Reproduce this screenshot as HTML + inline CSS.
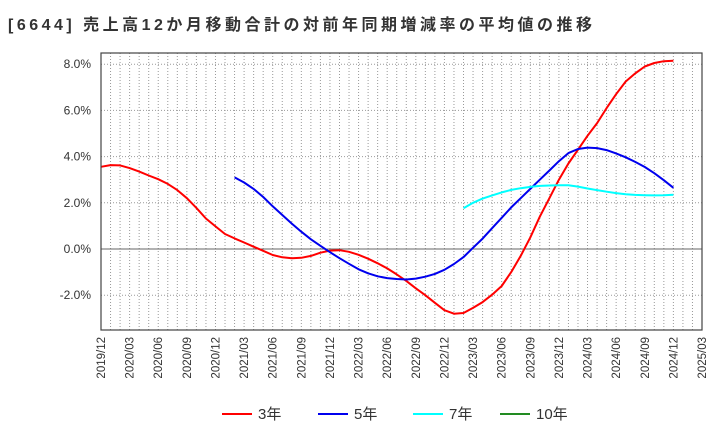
<!DOCTYPE html>
<html><head><meta charset="utf-8"><style>
body{margin:0;background:#fff;font-family:"Liberation Sans","Noto Sans CJK JP",sans-serif;}
svg text{font-family:"Liberation Sans","Noto Sans CJK JP",sans-serif;}
</style></head><body>
<svg id="c" width="720" height="440" xmlns="http://www.w3.org/2000/svg">
<text x="8" y="30" font-size="16" font-weight="bold" fill="#333" textLength="584" lengthAdjust="spacing">[6644]  売上高12か月移動合計の対前年同期増減率の平均値の推移</text>
<g id="grid"></g><g id="series"></g><g id="axes"></g><g id="legend"></g>
</svg>
<script>
const xLabels=["2019/12","2020/03","2020/06","2020/09","2020/12","2021/03","2021/06","2021/09","2021/12","2022/03","2022/06","2022/09","2022/12","2023/03","2023/06","2023/09","2023/12","2024/03","2024/06","2024/09","2024/12","2025/03"];
const yTicks=[-2,0,2,4,6,8];
const s3Start=0;
const s3=[3.56,3.63,3.62,3.5,3.35,3.18,3.02,2.82,2.55,2.2,1.78,1.32,0.98,0.65,0.46,0.28,0.1,-0.08,-0.26,-0.36,-0.4,-0.38,-0.3,-0.16,-0.07,-0.05,-0.12,-0.25,-0.42,-0.62,-0.84,-1.1,-1.38,-1.7,-2.0,-2.33,-2.65,-2.8,-2.77,-2.55,-2.3,-1.98,-1.6,-1.0,-0.3,0.5,1.4,2.2,3.0,3.7,4.3,4.9,5.45,6.1,6.7,7.25,7.6,7.9,8.05,8.13,8.15];
const s5Start=14;
const s5=[3.1,2.88,2.6,2.25,1.85,1.47,1.1,0.75,0.42,0.14,-0.14,-0.4,-0.64,-0.88,-1.05,-1.18,-1.26,-1.3,-1.32,-1.28,-1.2,-1.08,-0.9,-0.65,-0.35,0.05,0.45,0.9,1.35,1.8,2.2,2.6,3.0,3.4,3.8,4.15,4.33,4.39,4.37,4.28,4.14,3.97,3.77,3.55,3.28,2.98,2.65];
const s7Start=38;
const s7=[1.76,2.0,2.18,2.32,2.45,2.56,2.63,2.69,2.73,2.75,2.76,2.76,2.7,2.62,2.55,2.48,2.42,2.37,2.34,2.33,2.32,2.33,2.35];
const s10=[];
const L=101,R=702,T=53,B=330,totalMonths=63;
const X=m=>L+m*(R-L)/totalMonths;
const Y=v=>249-v*23.1;
const NS="http://www.w3.org/2000/svg";
function mk(tag,attrs,parent){const e=document.createElementNS(NS,tag);for(const k in attrs)e.setAttribute(k,attrs[k]);parent.appendChild(e);return e;}
const grid=document.getElementById('grid'),axes=document.getElementById('axes'),ser=document.getElementById('series'),leg=document.getElementById('legend');
for(let m=1;m<totalMonths;m++){
 const l=mk('line',{x1:X(m),x2:X(m),y1:T,y2:B,stroke:'#999','stroke-dasharray':'1,2','stroke-width':1},grid);
 
 
}
yTicks.forEach(v=>{
 const l=mk('line',{x1:L,x2:R,y1:Y(v),y2:Y(v),stroke:v===0?'#666':'#999','stroke-dasharray':v===0?'':'1,2','stroke-width':1},grid);
 
 
 const t=mk('text',{x:L-10,y:Y(v)+4,'text-anchor':'end','font-size':12,fill:'#333'},axes);
 t.textContent=v.toFixed(1)+'%';
 
 
});
const box=mk('rect',{x:L,y:T,width:R-L,height:B-T,fill:'none',stroke:'#444','stroke-width':1.2},axes);


xLabels.forEach((s,i)=>{
 const x=X(i*3);
 const t=mk('text',{x:0,y:0,'text-anchor':'end','font-size':11.5,fill:'#333',transform:`translate(${x+4},337) rotate(-90)`},axes);
 t.textContent=s;
 
 
});
function line(data,start,color,name){
 if(!data.length)return;
 const d=data.map((v,i)=>(i?'L':'M')+X(start+i).toFixed(1)+','+Y(v).toFixed(1)).join(' ');
 const p=mk('path',{d:d,fill:'none',stroke:color,'stroke-width':2,'stroke-linejoin':'round'},ser);
 
 
}
line(s3,s3Start,'#ff0000','line-3yr');
line(s5,s5Start,'#0000ee','line-5yr');
line(s7,s7Start,'#00ffff','line-7yr');
line(s10,0,'#228b22','line-10yr');
[['3年','#ff0000',222],['5年','#0000ee',318],['7年','#00ffff',413],['10年','#228b22',500]].forEach(([n,c,x])=>{
 const g=mk('g',{},leg);
 
 
 mk('line',{x1:x,x2:x+30,y1:414,y2:414,stroke:c,'stroke-width':2},g);
 const t=mk('text',{x:x+36,y:419,'font-size':15,fill:'#333'},g);
 t.textContent=n;
});
</script>
</body></html>
